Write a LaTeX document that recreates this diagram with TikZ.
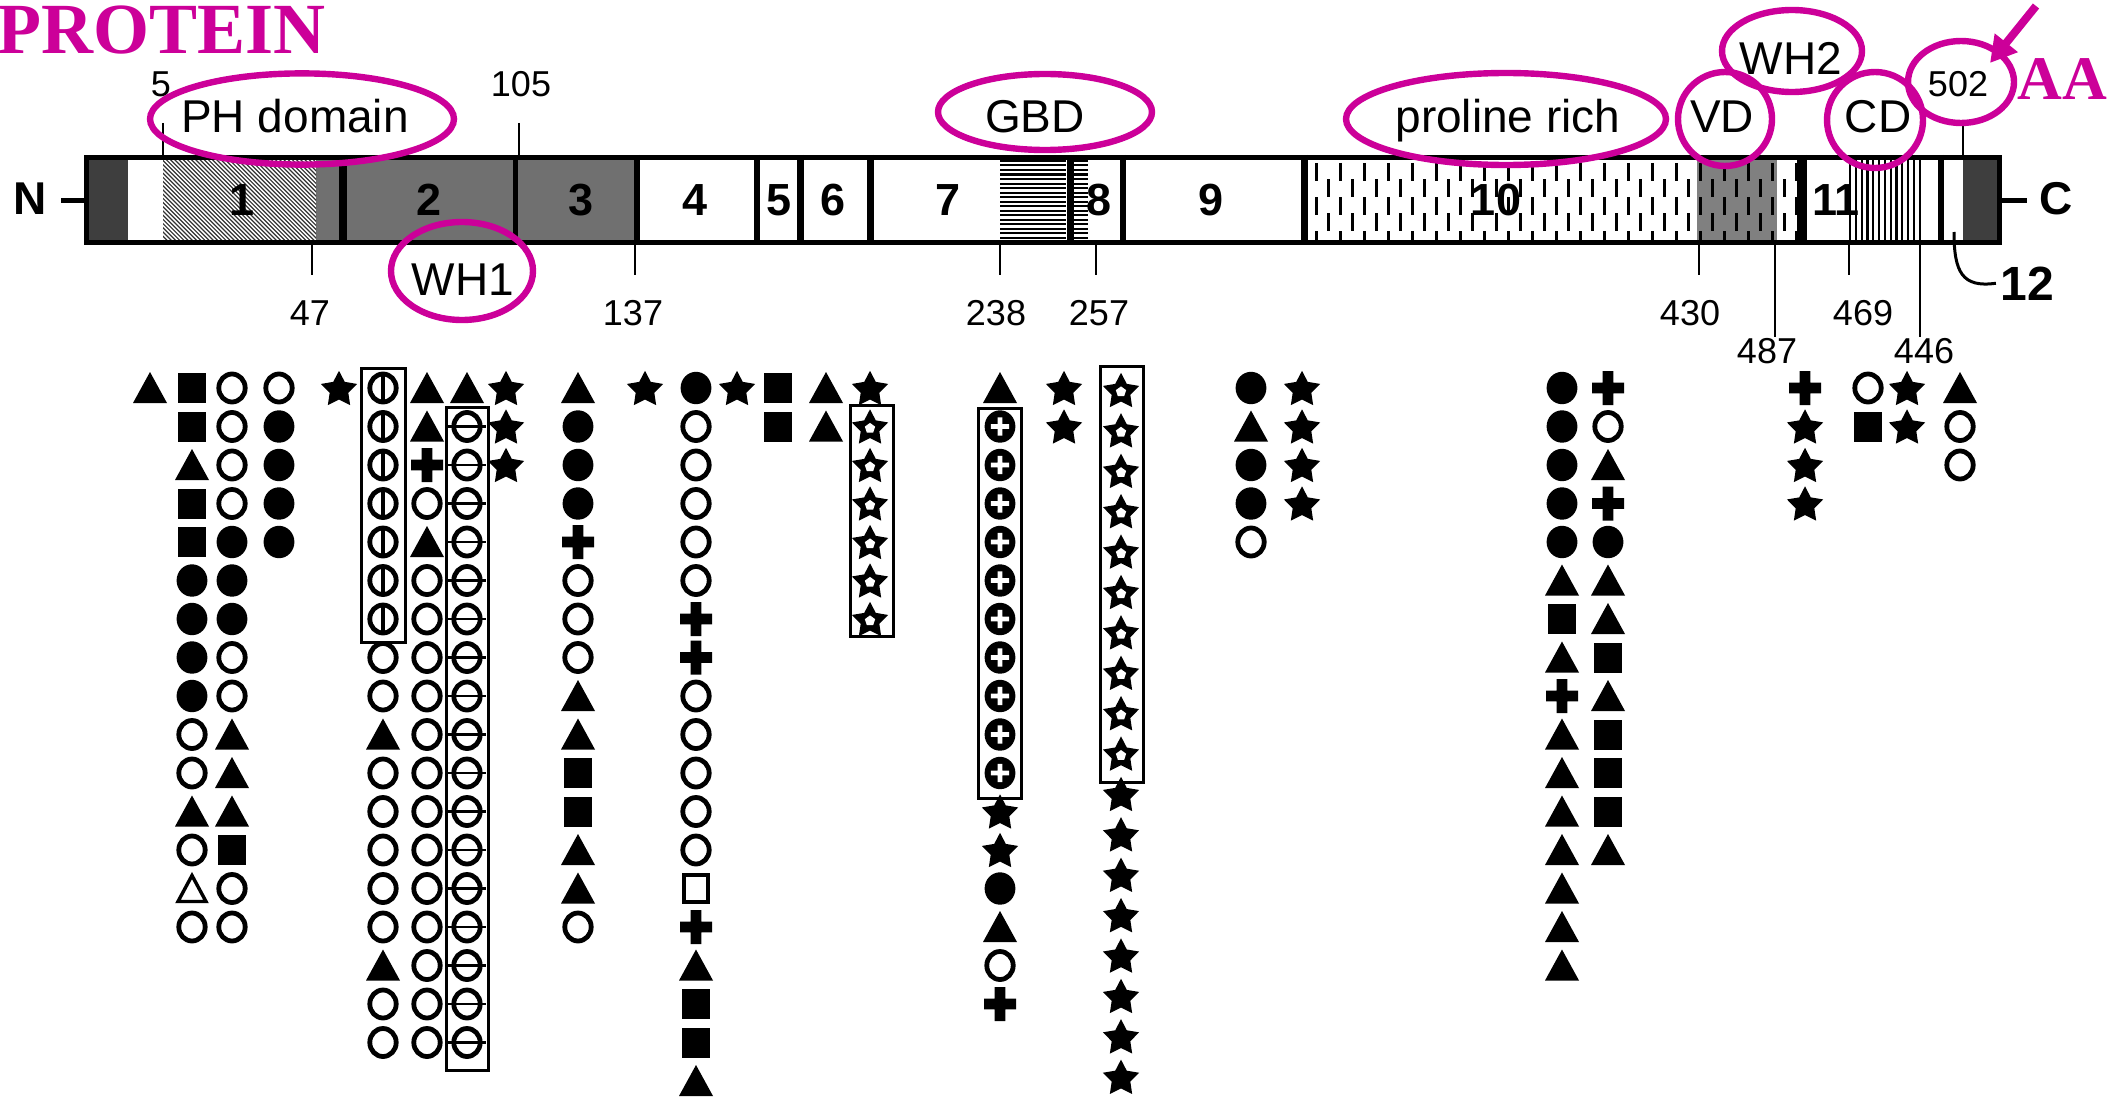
\documentclass[tikz,border=0pt]{standalone}
\usepackage{fontspec}
\setmainfont{Liberation Sans}
\newfontfamily\tnr{Liberation Serif}
\usetikzlibrary{arrows.meta}
\definecolor{mag}{RGB}{204,0,153}
\definecolor{darkend}{RGB}{62,62,62}
\definecolor{midgray}{RGB}{112,112,112}
\definecolor{vdgray}{RGB}{128,128,128}
% symbol macros (argument: x,y in picture units)
\newcommand\SymT[1]{\fill[shift={(#1)}] (-8.5pt,-7.5pt) -- (8.5pt,-7.5pt) -- (0pt,8pt) -- cycle;}
\newcommand\Symt[1]{\draw[shift={(#1)},line width=1.7pt,line join=miter] (-7pt,-6.5pt) -- (7pt,-6.5pt) -- (0pt,6.5pt) -- cycle;}
\newcommand\SymQ[1]{\fill[shift={(#1)}] (-6.8pt,-7.5pt) rectangle (6.8pt,7.5pt);}
\newcommand\Symq[1]{\draw[shift={(#1)},line width=1.9pt] (-6pt,-6.8pt) rectangle (6pt,6.8pt);}
\newcommand\SymD[1]{\fill[shift={(#1)}] (0pt,0pt) ellipse [x radius=7.7pt, y radius=8.1pt];}
\newcommand\Symo[1]{\draw[shift={(#1)},line width=2.4pt] (0pt,0pt) ellipse [x radius=6.6pt, y radius=7pt];}
\newcommand\SymV[1]{\Symo{#1}\draw[shift={(#1)},line width=1.9pt] (0pt,-7pt) -- (0pt,7pt);}
\newcommand\SymH[1]{\Symo{#1}\draw[shift={(#1)},line width=1.3pt] (-9.5pt,0pt) -- (9.5pt,0pt);}
\newcommand\SymE[1]{\SymD{#1}\fill[white,shift={(#1)}] (-4.6pt,-1.2pt) rectangle (4.6pt,1.2pt) (-1.2pt,-4.6pt) rectangle (1.2pt,4.6pt);}
\newcommand\SymP[1]{\fill[shift={(#1)}] (-8pt,-2.7pt) rectangle (8pt,2.7pt) (-2.7pt,-8.5pt) rectangle (2.7pt,8.5pt);}
\newcommand\SymX[1]{\fill[shift={(#1)},yshift=-0.9pt,line join=round] (90:9.5pt) -- (126:4.9pt) -- (162:9.5pt) -- (198:4.9pt) -- (234:9.5pt) -- (270:4.9pt) -- (306:9.5pt) -- (342:4.9pt) -- (18:9.5pt) -- (54:4.9pt) -- cycle;}
\newcommand\SymY[1]{\SymX{#1}\fill[white,shift={(#1)},yshift=-0.9pt] (90:2.7pt) -- (162:2.7pt) -- (234:2.7pt) -- (306:2.7pt) -- (18:2.7pt) -- cycle;}
\newcommand\SymCol[4]{\foreach \s [count=\k from 0] in {#4}{\pgfmathsetmacro\yy{#2+#3*\k}\csname Sym\s\endcsname{#1,\yy}}}
\tikzset{
 num/.style={font=\fontsize{18pt}{20pt}\selectfont, inner sep=0pt, anchor=base},
 dom/.style={font=\fontsize{23pt}{26pt}\selectfont, inner sep=0pt, anchor=base},
 segn/.style={font=\fontsize{22.5pt}{24pt}\selectfont\bfseries, inner sep=0pt, anchor=base},
 magring/.style={draw=mag, line width=3.2pt},
 tickln/.style={line width=1.2pt},
 symbox/.style={line width=1.5pt},
 magtext/.style={text=mag, inner sep=0pt, anchor=base west},
}
\begin{document}
\begin{tikzpicture}[x=0.5pt,y=-0.5pt]
\useasboundingbox (0,0) rectangle (2110,1097);
\fill[white] (0,0) rectangle (2110,1097);

% ---------- bar fills ----------
\fill[white] (84,155) rectangle (2002,245);
\fill[darkend] (84,155) rectangle (128,245);
\fill[darkend] (1963,155) rectangle (2002,245);
\fill[midgray] (316,155) rectangle (637,245);
\fill[vdgray] (1697,155) rectangle (1777,245);
% hatch in segment 1
\begin{scope}
\clip (163,160) rectangle (316,240);
\foreach \i in {0,...,64}{\draw[line width=0.6pt, black!80] (60+4.2*\i,150) -- (160+4.2*\i,250);}
\end{scope}
% horizontal stripes (segments 7/8)
\foreach \y in {161,165.5,...,240}{\draw[line width=1pt] (1000,\y) -- (1066,\y);}
\foreach \y in {161,165.5,...,240}{\draw[line width=1pt] (1074,\y) -- (1088,\y);}
% dashed pattern (segment 10)
\foreach \i in {0,...,40}{
  \pgfmathsetmacro\xx{1316+12*\i}
  \pgfmathsetmacro\ph{mod(\i,2)*9}
  \draw[line width=1.5pt, dash pattern=on 9pt off 8pt, dash phase=\ph pt] (\xx,163) -- (\xx,240);
}
% vertical stripes (segment 11)
\foreach \x in {1850,1855.8,...,1921}{\draw[line width=1.1pt] (\x,160) -- (\x,240);}
% separators
\foreach \x/\w in {343/4,515/2.5,637/3,757/3,800/3.5,870/3.5,1070/3.5,1123/3,1304/3.5,1802/5,1941/3}{
  \draw[line width=\w pt] (\x,155) -- (\x,245);}
% border
\draw[line width=2.5pt] (86.5,157.5) rectangle (1999.5,242.5);

% ---------- end labels ----------
\coordinate (barW) at (84,200);
\coordinate (barE) at (2002,200);
\node[font=\fontsize{23pt}{26pt}\selectfont\bfseries, inner ysep=0pt, inner xsep=7pt] (N) at (30,199) {N};
\node[font=\fontsize{23pt}{26pt}\selectfont\bfseries, inner ysep=0pt, inner xsep=6pt] (C) at (2056,199) {C};
\draw[line width=2.5pt] (N.east |- barW) -- (barW);
\draw[line width=2.5pt] (barE) -- (C.west |- barE);

% ---------- segment numbers ----------
\foreach \x/\t [count=\n] in {242/1,429/2,581/3,695/4,779/5,833/6,948/7,1099/8,1211/9,1496/10,1836/11}{
  \node[segn] (seg\n) at (\x,215) {\t};}

% ---------- ticks ----------
\draw[tickln] (163,123) -- (163,155);
\draw[tickln] (519,123) -- (519,155);
\draw[tickln] (1963,123) -- (1963,155);
\foreach \x in {312,635,1000,1096,1699,1849}{\draw[tickln] (\x,245) -- (\x,275);}
\draw[tickln] (1775,245) -- (1775,337);
\draw[tickln] (1920,245) -- (1920,337);

% ---------- number labels ----------
\node[num] (n5) at (161,97) {5};
\node[num] (n105) at (521,97) {105};
\node[num] (n502) at (1958,97) {502};
\node[num] (n47) at (310,325) {47};
\node[num] (n137) at (633,325) {137};
\node[num] (n238) at (996,325) {238};
\node[num] (n257) at (1099,325) {257};
\node[num] (n430) at (1690,325) {430};
\node[num] (n469) at (1863,325) {469};
\node[num] (n487) at (1767,363) {487};
\node[num] (n446) at (1924,363) {446};
\node[font=\fontsize{24pt}{26pt}\selectfont\bfseries, inner sep=0pt, anchor=base] (n12) at (2027,300) {12};
\coordinate (c12) at (1954,232);
\draw[line width=1.5pt] (c12) .. controls (1954,272) and (1962,288) .. ([xshift=-2pt]n12.west);

% ---------- domain labels ----------
\node[dom] (ph) at (295,133) {PH domain};
\node[dom] (wh1) at (463,295) {WH1};
\node[dom] (gbd) at (1035,133) {GBD};
\node[dom] (pro) at (1508,133) {proline rich};
\node[dom] (vd) at (1722,133) {VD};
\node[dom] (wh2) at (1791,75) {WH2};
\node[dom] (cd) at (1878,133) {CD};

% ---------- magenta annotations ----------
\draw[magring] (302,119) ellipse [x radius=76pt, y radius=22.8pt];
\draw[magring] (462,271) ellipse [x radius=35.5pt, y radius=24.5pt];
\draw[magring] (1045,112) ellipse [x radius=53.5pt, y radius=19pt];
\draw[magring] (1506,119) ellipse [x radius=80pt, y radius=23pt];
\draw[magring] (1725,119) ellipse [x radius=23.5pt, y radius=23.5pt];
\draw[magring] (1792,51) ellipse [x radius=35pt, y radius=20.5pt];
\draw[magring] (1875,120) ellipse [x radius=24pt, y radius=24pt];
\draw[magring] (1961,82) ellipse [x radius=26.5pt, y radius=20.5pt];
\node[magtext, font=\tnr\bfseries\fontsize{36pt}{40pt}\selectfont] (prot) at (-3,54) {PROTEIN};
\node[magtext, font=\tnr\bfseries\fontsize{31pt}{34pt}\selectfont] (aa) at (2017,100) {AA};
\coordinate (arrS) at (2036,6);
\coordinate (arrE) at (1990,63);
\draw[mag, line width=4pt, -{Triangle[length=13pt,width=14pt]}] (arrS) -- (arrE);

% ---------- symbol columns ----------
\SymCol{150}{388}{38.5}{T}
\SymCol{192}{388}{38.5}{Q,Q,T,Q,Q,D,D,D,D,o,o,T,o,t,o}
\SymCol{232}{388}{38.5}{o,o,o,o,D,D,D,o,o,T,T,T,Q,o,o}
\SymCol{279}{388}{38.5}{o,D,D,D,D}
\SymCol{339}{388}{38.5}{X}
\SymCol{383}{388}{38.5}{V,V,V,V,V,V,V,o,o,T,o,o,o,o,o,T,o,o}
\SymCol{427}{388}{38.5}{T,T,P,o,T,o,o,o,o,o,o,o,o,o,o,o,o,o}
\SymCol{467}{388}{38.5}{T,H,H,H,H,H,H,H,H,H,H,H,H,H,H,H,H,H}
\SymCol{506}{388}{38.5}{X,X,X}
\SymCol{578}{388}{38.5}{T,D,D,D,P,o,o,o,T,T,Q,Q,T,T,o}
\SymCol{645}{388}{38.5}{X}
\SymCol{696}{388}{38.5}{D,o,o,o,o,o,P,P,o,o,o,o,o,q,P,T,Q,Q,T}
\SymCol{737}{388}{38.5}{X}
\SymCol{778}{388}{38.5}{Q,Q}
\SymCol{826}{388}{38.5}{T,T}
\SymCol{870}{388}{38.5}{X,Y,Y,Y,Y,Y,Y}
\SymCol{1000}{388}{38.5}{T,E,E,E,E,E,E,E,E,E,E,X,X,D,T,o,P}
\SymCol{1064}{388}{38.5}{X,X}
\SymCol{1121}{390}{40.4}{Y,Y,Y,Y,Y,Y,Y,Y,Y,Y,X,X,X,X,X,X,X,X}
\SymCol{1251}{388}{38.5}{D,T,D,D,o}
\SymCol{1302}{388}{38.5}{X,X,X,X}
\SymCol{1562}{388}{38.5}{D,D,D,D,D,T,Q,T,P,T,T,T,T,T,T,T}
\SymCol{1608}{388}{38.5}{P,o,T,P,D,T,T,Q,T,Q,Q,Q,T}
\SymCol{1805}{388}{38.5}{P,X,X,X}
\SymCol{1868}{388}{38.5}{o,Q}
\SymCol{1907}{388}{38.5}{X,X}
\SymCol{1960}{388}{38.5}{T,o,o}

% boxes round groups
\draw[symbox] (361,368) rectangle (405,642);
\draw[symbox] (446,407) rectangle (488,1070);
\draw[symbox] (850,405) rectangle (893,636);
\draw[symbox] (978,408) rectangle (1021,798);
\draw[symbox] (1100,366) rectangle (1143,782);
\end{tikzpicture}
\end{document}
